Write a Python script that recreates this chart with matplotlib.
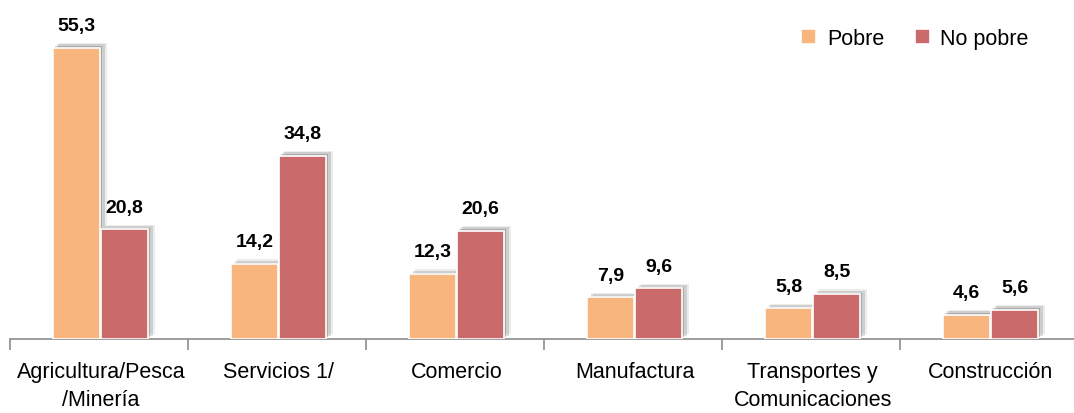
import numpy as np
import matplotlib.pyplot as plt
import matplotlib.patheffects as pe
from matplotlib import font_manager

# data
categories = ['Agricultura/Pesca\n/Minería', 'Servicios 1/', 'Comercio',
              'Manufactura', 'Transportes y\nComunicaciones', 'Construcción']
pobre = [55.3, 14.2, 12.3, 7.9, 5.8, 4.6]
no_pobre = [20.8, 34.8, 20.6, 9.6, 8.5, 5.6]
series_names = ['Pobre', 'No pobre']

names = {f.name for f in font_manager.fontManager.ttflist}
narrow = [n for n in ['Liberation Sans Narrow', 'DejaVu Sans Condensed'] if n in names]
plt.rcParams['font.family'] = narrow[:1] + ['Liberation Sans', 'DejaVu Sans']

c_pobre = '#F8B57E'
c_nopobre = '#CB6A6A'

fig = plt.figure(figsize=(10.74, 4.14), dpi=100)
ax = fig.add_axes([10 / 1074, 1 - 340 / 414, 1068 / 1074, 316 / 414])

x = np.arange(len(categories)) + 0.01
w = 0.265
off = 0.135

shadow = [pe.SimplePatchShadow(offset=(4.5, 3.5), shadow_rgbFace='#999999', alpha=0.18),
          pe.SimplePatchShadow(offset=(3, 2.5), shadow_rgbFace='#777777', alpha=0.25),
          pe.SimplePatchShadow(offset=(1.5, 1.2), shadow_rgbFace='#555555', alpha=0.3),
          pe.Normal()]

b1 = ax.bar(x - off, pobre, w, color=c_pobre, edgecolor='white', linewidth=1.2,
            label=series_names[0], zorder=3)
b2 = ax.bar(x + off, no_pobre, w, color=c_nopobre, edgecolor='white', linewidth=1.2,
            label=series_names[1], zorder=3)
for bars in (b1, b2):
    for p in bars:
        p.set_path_effects(shadow)

for bars, vals in ((b1, pobre), (b2, no_pobre)):
    for p, v in zip(bars, vals):
        ax.annotate(f'{v:.1f}'.replace('.', ','),
                    (p.get_x() + p.get_width() / 2, v),
                    xytext=(0, 10), textcoords='offset points',
                    ha='center', va='bottom', fontsize=14, fontweight='bold')

ax.set_xlim(-0.5, len(categories) - 0.5)
ax.set_ylim(0, 60)
ax.set_yticks([])
for s in ['top', 'right', 'left']:
    ax.spines[s].set_visible(False)
ax.spines['bottom'].set_color('#8c8c8c')
ax.spines['bottom'].set_linewidth(1.2)

ax.set_xticks(x)
ax.set_xticklabels(categories, fontsize=15.5, linespacing=1.4)
ax.tick_params(axis='x', which='major', length=0, pad=16)
ax.set_xticks(np.arange(-0.5, len(categories)), minor=True)
ax.tick_params(axis='x', which='minor', length=8, color='#8c8c8c', width=1.2)

leg = ax.legend(loc='upper right', bbox_to_anchor=(0.972, 1.045), ncol=2,
                frameon=False, fontsize=15.5, handlelength=0.7, handleheight=0.7,
                handletextpad=0.5, columnspacing=1.4)
for h in leg.legend_handles:
    h.set_path_effects([])
    h.set_edgecolor('white')

fig.savefig('out.png', dpi=100)
